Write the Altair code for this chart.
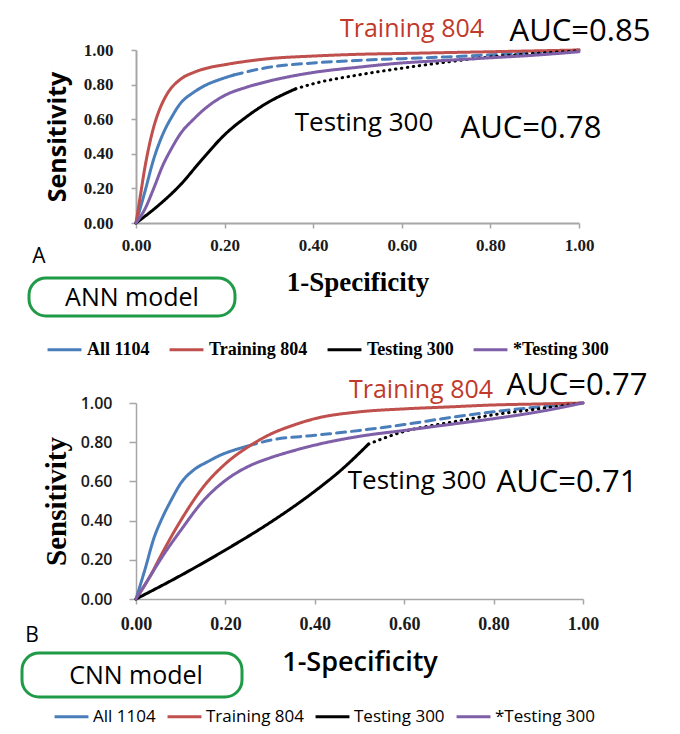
import altair as alt
import pandas as pd

SERIES = ["All 1104", "Training 804", "Testing 300", "*Testing 300"]
COLORS = ["#4a7ebb", "#c0504d", "#000000", "#7f5fa8"]
TICKS = [0.0, 0.2, 0.4, 0.6, 0.8, 1.0]

# ---------------- ANN model (panel A) ----------------
ann_all_solid_x = [0, 0.02, 0.04, 0.06, 0.08, 0.10, 0.13, 0.16, 0.19, 0.22]
ann_all_solid_y = [0, 0.18, 0.37, 0.51, 0.61, 0.69, 0.755, 0.80, 0.83, 0.855]
ann_all_dash_x = [0.22, 0.3, 0.4, 0.5, 0.6, 0.7, 0.8, 0.9, 1.0]
ann_all_dash_y = [0.855, 0.90, 0.925, 0.94, 0.95, 0.96, 0.972, 0.985, 1.0]

ann_train_x = [0, 0.01, 0.02, 0.03, 0.04, 0.05, 0.07, 0.10, 0.13, 0.16, 0.20, 0.25, 0.30, 0.40, 0.50, 0.60, 0.70, 0.80, 0.90, 1.0]
ann_train_y = [0, 0.16, 0.32, 0.45, 0.555, 0.635, 0.745, 0.83, 0.87, 0.895, 0.915, 0.935, 0.95, 0.965, 0.975, 0.98, 0.985, 0.99, 0.995, 1.0]

ann_test_solid_x = [0, 0.05, 0.10, 0.15, 0.20, 0.25, 0.30, 0.33, 0.36]
ann_test_solid_y = [0, 0.10, 0.22, 0.37, 0.51, 0.615, 0.70, 0.74, 0.775]
ann_test_dot_x = [0.36, 0.4, 0.5, 0.6, 0.7, 0.8, 0.9, 1.0]
ann_test_dot_y = [0.775, 0.805, 0.855, 0.895, 0.93, 0.96, 0.98, 0.995]

ann_star_x = [0, 0.02, 0.04, 0.06, 0.08, 0.10, 0.13, 0.16, 0.20, 0.25, 0.30, 0.40, 0.50, 0.60, 0.70, 0.80, 0.90, 1.0]
ann_star_y = [0, 0.08, 0.20, 0.33, 0.43, 0.515, 0.60, 0.67, 0.737, 0.785, 0.82, 0.87, 0.90, 0.925, 0.94, 0.955, 0.97, 0.99]

# ---------------- CNN model (panel B) ----------------
cnn_all_solid_x = [0, 0.02, 0.04, 0.06, 0.08, 0.10, 0.13, 0.16, 0.19, 0.22, 0.25]
cnn_all_solid_y = [0, 0.15, 0.31, 0.42, 0.51, 0.59, 0.66, 0.70, 0.735, 0.76, 0.78]
cnn_all_dash_x = [0.25, 0.3, 0.4, 0.5, 0.6, 0.7, 0.8, 0.9, 1.0]
cnn_all_dash_y = [0.78, 0.81, 0.835, 0.86, 0.89, 0.925, 0.955, 0.98, 1.0]

cnn_train_x = [0, 0.03, 0.06, 0.10, 0.15, 0.20, 0.25, 0.30, 0.35, 0.40, 0.50, 0.60, 0.70, 0.80, 0.90, 1.0]
cnn_train_y = [0, 0.11, 0.24, 0.40, 0.57, 0.69, 0.775, 0.84, 0.885, 0.92, 0.955, 0.97, 0.98, 0.99, 0.995, 1.0]

cnn_test_solid_x = [0, 0.1, 0.2, 0.3, 0.4, 0.46, 0.52]
cnn_test_solid_y = [0, 0.12, 0.25, 0.39, 0.55, 0.66, 0.79]
cnn_test_dot_x = [0.52, 0.56, 0.6, 0.65, 0.7, 0.8, 0.9, 1.0]
cnn_test_dot_y = [0.79, 0.825, 0.855, 0.88, 0.90, 0.94, 0.97, 1.0]

cnn_star_x = [0, 0.03, 0.06, 0.10, 0.15, 0.20, 0.25, 0.30, 0.35, 0.40, 0.50, 0.60, 0.70, 0.80, 0.90, 1.0]
cnn_star_y = [0, 0.11, 0.22, 0.35, 0.50, 0.605, 0.675, 0.72, 0.755, 0.785, 0.83, 0.86, 0.89, 0.92, 0.955, 1.0]


def build(parts):
    rows = []
    for series, seg, xs, ys in parts:
        for i, (x, y) in enumerate(zip(xs, ys)):
            rows.append({"series": series, "seg": seg, "key": series + "|" + seg, "i": i, "x": x, "y": y})
    return pd.DataFrame(rows)


ann_df = build([
    ("All 1104", "solid", ann_all_solid_x, ann_all_solid_y),
    ("All 1104", "dash", ann_all_dash_x, ann_all_dash_y),
    ("Training 804", "solid", ann_train_x, ann_train_y),
    ("Testing 300", "solid", ann_test_solid_x, ann_test_solid_y),
    ("Testing 300", "dot", ann_test_dot_x, ann_test_dot_y),
    ("*Testing 300", "solid", ann_star_x, ann_star_y),
])
cnn_df = build([
    ("All 1104", "solid", cnn_all_solid_x, cnn_all_solid_y),
    ("All 1104", "dash", cnn_all_dash_x, cnn_all_dash_y),
    ("Training 804", "solid", cnn_train_x, cnn_train_y),
    ("Testing 300", "solid", cnn_test_solid_x, cnn_test_solid_y),
    ("Testing 300", "dot", cnn_test_dot_x, cnn_test_dot_y),
    ("*Testing 300", "solid", cnn_star_x, cnn_star_y),
])

SERIF = "Liberation Serif"
SANS = "Open Sans"
AXIS_GRAY = "#a6a6a6"
GREEN = "#1f9a46"
RED_TXT = "#c0392b"


def text_layer(label, px, py, size, color="black", font=SANS, weight="normal", align="center", baseline="alphabetic"):
    return alt.Chart(pd.DataFrame({"t": [label]})).mark_text(
        font=font, fontSize=size, fontWeight=weight, color=color, align=align, baseline=baseline
    ).encode(text="t:N", x=alt.value(px), y=alt.value(py))


def box_layer(x1, x2, y1, y2):
    return alt.Chart(pd.DataFrame({"b": [1]})).mark_rect(
        cornerRadius=17, fill="white", stroke=GREEN, strokeWidth=3
    ).encode(x=alt.value(x1), x2=alt.value(x2), y=alt.value(y1), y2=alt.value(y2))


def anchor_layer(px):
    # invisible spacer that fixes the panel's left extent so both plot areas land where they should
    return alt.Chart(pd.DataFrame({"b": [1]})).mark_rect(opacity=0).encode(
        x=alt.value(px), x2=alt.value(px + 1), y=alt.value(0), y2=alt.value(1))


def panel(df, w, h, xaxis, yaxis, legend):
    return alt.Chart(df).mark_line(strokeWidth=3, interpolate="monotone", strokeCap="round").encode(
        x=alt.X("x:Q", scale=alt.Scale(domain=[0, 1], nice=False), axis=xaxis),
        y=alt.Y("y:Q", scale=alt.Scale(domain=[0, 1], nice=False), axis=yaxis),
        color=alt.Color("series:N", scale=alt.Scale(domain=SERIES, range=COLORS), legend=legend),
        strokeDash=alt.StrokeDash("seg:N", scale=alt.Scale(domain=["solid", "dash", "dot"],
                                                           range=[[1, 0], [9, 6], [0.5, 5.5]]), legend=None),
        detail="key:N",
        order="i:Q",
    ).properties(width=w, height=h)


# ---------- Panel A ----------
WA, HA = 443, 173
axA_x = alt.Axis(values=TICKS, format=".2f", title="1-Specificity", grid=False, labelFlush=False,
                 labelOverlap=False, labelFont=SERIF, labelFontWeight="bold", labelFontSize=17,
                 labelColor="#1a1a1a", labelPadding=9, tickSize=5, tickColor=AXIS_GRAY, tickWidth=1.5,
                 domainColor=AXIS_GRAY, domainWidth=2, titleFont=SERIF, titleFontWeight="bold",
                 titleFontSize=27, titleColor="black", titleY=67, titleBaseline="alphabetic")
axA_y = alt.Axis(values=TICKS, format=".2f", title="Sensitivity", grid=False, labelOverlap=False,
                 labelFont=SERIF, labelFontWeight="bold", labelFontSize=17, labelColor="#1a1a1a",
                 labelPadding=18, tickSize=5, tickColor=AXIS_GRAY, tickWidth=1.5, domainColor=AXIS_GRAY,
                 domainWidth=2, titleFont=SANS, titleFontWeight="bold", titleFontSize=25, titleColor="black",
                 titleX=-71, titleY=HA / 2, titleBaseline="alphabetic")
legA = alt.Legend(title=None, orient="none", legendX=-90, legendY=281, direction="horizontal",
                  symbolType="stroke", symbolSize=1150, symbolStrokeWidth=3, labelFont=SERIF,
                  labelFontWeight="bold", labelFontSize=18, labelColor="black", columnPadding=13,
                  labelOffset=4, labelLimit=300)

chartA = alt.layer(
    panel(ann_df, WA, HA, axA_x, axA_y, legA),
    anchor_layer(-121),
    text_layer("Training 804", 276, -13, 25, color=RED_TXT),
    text_layer("AUC=0.85", 444, -9, 31),
    text_layer("Testing 300", 228, 81, 26),
    text_layer("AUC=0.78", 395, 88, 31),
    text_layer("A", -97, 213, 21),
    box_layer(-107, 99, 228, 266),
    text_layer("ANN model", -4, 256, 25),
)

# ---------- Panel B ----------
WB, HB = 447, 196
axB_x = alt.Axis(values=TICKS, format=".2f", title="1-Specificity", grid=False, labelFlush=False,
                 labelOverlap=False, labelFont=SERIF, labelFontWeight="bold", labelFontSize=18,
                 labelColor="#1a1a1a", labelPadding=11, tickSize=5, tickColor=AXIS_GRAY, tickWidth=1.5,
                 domainColor=AXIS_GRAY, domainWidth=1.5, titleFont=SANS, titleFontWeight=600,
                 titleFontSize=27, titleColor="black", titleY=71, titleBaseline="alphabetic")
axB_y = alt.Axis(values=TICKS, format=".2f", title="Sensitivity", grid=False, labelOverlap=False,
                 labelFont=SANS, labelFontWeight=600, labelFontSize=16, labelColor="#1a1a1a",
                 labelPadding=17, tickSize=7, tickColor=AXIS_GRAY, tickWidth=1.5, domainColor=AXIS_GRAY,
                 domainWidth=1.5, titleFont=SERIF, titleFontWeight="bold", titleFontSize=29,
                 titleColor="black", titleX=-71, titleY=HB / 2, titleBaseline="alphabetic")
legB = alt.Legend(title=None, orient="none", legendX=-83, legendY=295, direction="horizontal",
                  symbolType="stroke", symbolSize=1150, symbolStrokeWidth=3, labelFont=SANS,
                  labelFontSize=17, labelColor="black", columnPadding=5, labelOffset=3, labelLimit=300)

chartB = alt.layer(
    panel(cnn_df, WB, HB, axB_x, axB_y, legB),
    anchor_layer(-128),
    text_layer("Training 804", 285, -5, 25, color=RED_TXT),
    text_layer("AUC=0.77", 441, -8, 31),
    text_layer("Testing 300", 281, 86, 26),
    text_layer("AUC=0.71", 431, 89, 31),
    text_layer("B", -104, 239, 21),
    box_layer(-114, 106, 250, 294),
    text_layer("CNN model", 0, 281, 25),
)

chart = alt.concat(chartA, chartB, columns=1, spacing=11, align="none").resolve_scale(
    color="independent", strokeDash="independent"
).resolve_legend(color="independent").properties(
    padding={"left": 0, "top": 8, "right": 0, "bottom": 4}, background="white"
).configure_view(stroke=None)

chart.save("out.html", embed_options={"renderer": "svg", "actions": False})
